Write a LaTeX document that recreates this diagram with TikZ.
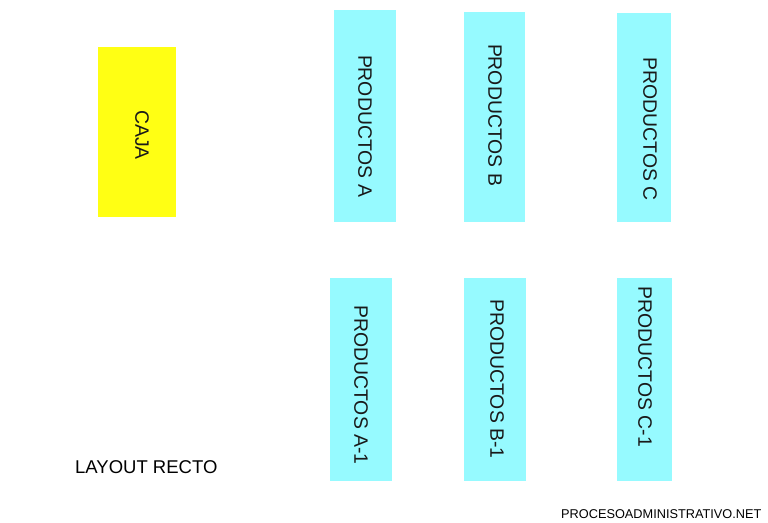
\documentclass[tikz,border=0pt]{standalone}
\usepackage{fontspec}
\setmainfont{Liberation Sans}
\definecolor{cajayellow}{RGB}{255,255,20}
\definecolor{prodcyan}{RGB}{150,250,255}
\begin{document}
\begin{tikzpicture}[x=1pt,y=-1pt,
  box/.style={draw=none,inner sep=0pt,outer sep=0pt},
  lbl/.style={rotate=-90,inner sep=0pt,font=\fontsize{19.4}{19.4}\selectfont,text=black!90},
  note/.style={inner sep=0pt,anchor=base west}]
\useasboundingbox (0,0) rectangle (768,522);
\fill[white] (0,0) rectangle (768,522);
% boxes
\node[box,fill=cajayellow,minimum width=78pt,minimum height=170pt] (caja) at (137,132) {};
\node[box,fill=prodcyan,minimum width=62pt,minimum height=212pt] (pa) at (365,116) {};
\node[box,fill=prodcyan,minimum width=61pt,minimum height=210pt] (pb) at (494.5,117) {};
\node[box,fill=prodcyan,minimum width=54pt,minimum height=209pt] (pc) at (644,117.5) {};
\node[box,fill=prodcyan,minimum width=62pt,minimum height=203pt] (pa1) at (361,379.5) {};
\node[box,fill=prodcyan,minimum width=62pt,minimum height=203pt] (pb1) at (495,379.5) {};
\node[box,fill=prodcyan,minimum width=55pt,minimum height=203pt] (pc1) at (644.5,379.5) {};
% labels
\node[lbl] (tcaja) at (142,135) {CAJA};
\node[lbl] (tpa) at (365,126) {PRODUCTOS A};
\node[lbl] (tpb) at (495,115) {PRODUCTOS B};
\node[lbl] (tpc) at (650,129) {PRODUCTOS C};
\node[lbl] (tpa1) at (361,385) {PRODUCTOS A-1};
\node[lbl] (tpb1) at (497,379) {PRODUCTOS B-1};
\node[lbl] (tpc1) at (645,367) {PRODUCTOS C-1};
% notes
\node[note,font=\fontsize{18.5}{18.5}\selectfont] (layout) at (75,473) {LAYOUT RECTO};
\node[note,font=\fontsize{12.75}{12.75}\selectfont] (web) at (561,518) {PROCESOADMINISTRATIVO.NET};
\end{tikzpicture}
\end{document}
